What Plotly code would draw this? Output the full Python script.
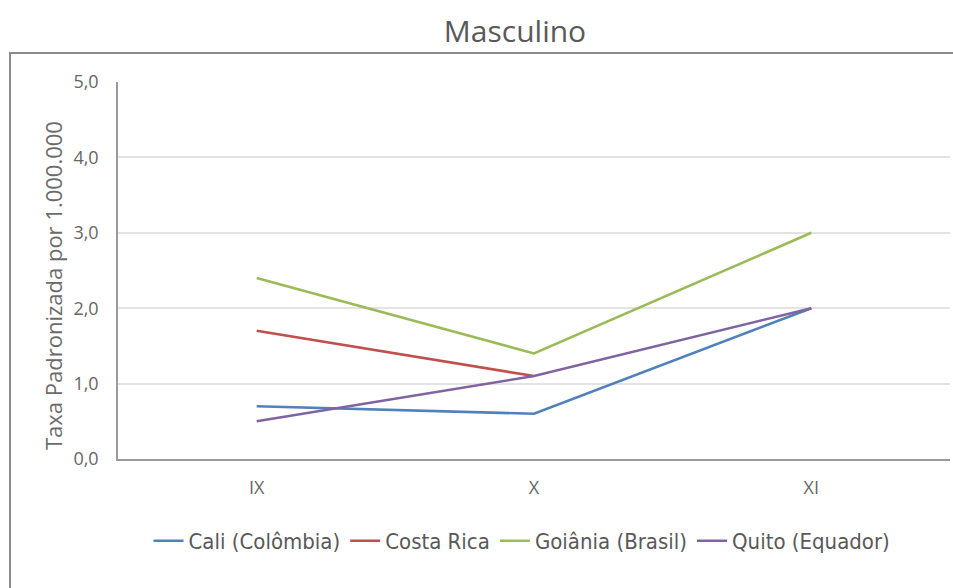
import plotly.graph_objects as go

# Categories and standardized rates (per 1,000,000)
categories = ["IX", "X", "XI"]
cali = [0.7, 0.6, 2.0]
costa_rica = [1.7, 1.1, None]
goiania = [2.4, 1.4, 3.0]
quito = [0.5, 1.1, 2.0]

series = [
    ("Cali (Colômbia)", cali, "#4F81BD"),
    ("Costa Rica", costa_rica, "#C0504D"),
    ("Goiânia (Brasil)", goiania, "#9BBB59"),
    ("Quito (Equador)", quito, "#8064A2"),
]

fig = go.Figure()
for name, vals, color in series:
    fig.add_trace(go.Scatter(
        x=categories, y=vals, name=name, mode="lines",
        line=dict(color=color, width=2.6),
        connectgaps=False,
    ))

W, H = 953, 588
L, R, T, B = 118, 950, 82, 459
pw, ph = R - L, B - T

def px_x(px):
    return (px - L) / pw

def px_y(py):
    return (B - py) / ph

fig.update_layout(
    width=W, height=H,
    margin=dict(l=L, r=W - R, t=T, b=H - B),
    paper_bgcolor="white", plot_bgcolor="white",
    font=dict(family="Open Sans", color="#666666"),
    title=dict(text="Masculino", x=515 / W, xref="container", xanchor="center",
               y=1 - 31 / H, yref="container", yanchor="middle",
               font=dict(size=30, color="#595959", family="Open Sans")),
    xaxis=dict(type="category", range=[-0.5, 2.5], showgrid=False,
               showline=True, linecolor="#9a9a9a", linewidth=1.5,
               ticks="", tickfont=dict(size=18, family="Open Sans", color="#666666"),
               ticklabelstandoff=12),
    yaxis=dict(range=[0, 5], tickvals=[0, 1, 2, 3, 4, 5],
               ticktext=["0,0", "1,0", "2,0", "3,0", "4,0", "5,0"],
               showgrid=True, gridcolor="#e3e3e3", gridwidth=1.5,
               showline=True, linecolor="#9a9a9a", linewidth=1.5,
               zeroline=False, ticks="",
               tickfont=dict(size=18, family="Open Sans", color="#666666"),
               ticklabelstandoff=14),
    legend=dict(orientation="h", x=0.5 - 12 / pw, xanchor="center",
                y=px_y(541), yanchor="middle",
                font=dict(size=22, family="DejaVu Sans Condensed", color="#595959"),
                itemwidth=30, tracegroupgap=0, bgcolor="rgba(0,0,0,0)"),
    showlegend=True,
)

# y-axis title
fig.add_annotation(text="Taxa Padronizada por 1.000.000", textangle=-90,
                   xref="paper", yref="paper", x=px_x(36), y=px_y(286),
                   showarrow=False, font=dict(size=22, family="Open Sans", color="#6b6b6b"))

# chart area border
fig.add_shape(type="rect", xref="paper", yref="paper",
              x0=px_x(10), x1=px_x(W + 20), y0=px_y(H + 20), y1=px_y(53),
              line=dict(color="#8c8c8c", width=2), fillcolor="rgba(0,0,0,0)", layer="below")

fig.write_html("out.html")
